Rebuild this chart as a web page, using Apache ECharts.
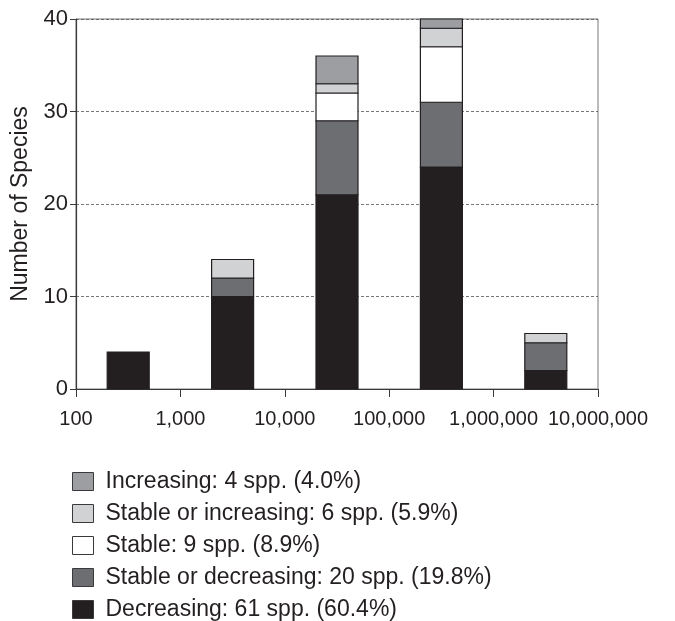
<!DOCTYPE html>
<html>
<head>
<meta charset="utf-8">
<script src="https://cdn.jsdelivr.net/npm/echarts@6/dist/echarts.min.js"></script>
<style>
  html, body { margin: 0; padding: 0; background: #fff; }
  #chart { width: 675px; height: 621px; }
</style>
</head>
<body>
<div id="chart"></div>
<script>
// Size classes (one decade each); each bar sits at the geometric middle of its class
const binLower = [100, 1000, 10000, 100000, 1000000];
const binUpper = [1000, 10000, 100000, 1000000, 10000000];

// Species counts per size class, by population trend (null = none in that class)
const decreasing          = [4, 10, 21, 24, 2];
const stableOrDecreasing  = [null, 2, 8, 7, 3];
const stable              = [null, null, 3, 6, null];
const stableOrIncreasing  = [null, 2, 1, 2, 1];
const increasing          = [null, null, 3, 1, null];

// Total number of species assessed (denominator of the percentages)
const totalSpecies = 101;

const trendLabels = ['Decreasing', 'Stable or decreasing', 'Stable', 'Stable or increasing', 'Increasing'];
const trendColors = ['#231f20', '#6d6e71', '#ffffff', '#d1d2d4', '#9d9ea2'];
const trendValues = [decreasing, stableOrDecreasing, stable, stableOrIncreasing, increasing];

const yTicks = [0, 10, 20, 30, 40];

const sum = arr => arr.reduce((a, b) => a + (b || 0), 0);
const names = trendValues.map((arr, i) => {
  const n = sum(arr);
  return trendLabels[i] + ': ' + n + ' spp. (' + (n / totalSpecies * 100).toFixed(1) + '%)';
});
const centers = binLower.map((lo, i) => Math.sqrt(lo * binUpper[i]));

// Stack segments: each item is [x, bottom, top]
const runningTop = binLower.map(() => 0);
const stackedData = trendValues.map(arr => {
  const items = [];
  arr.forEach((v, j) => {
    if (v == null) return;
    const bottom = runningTop[j];
    runningTop[j] += v;
    items.push([centers[j], bottom, runningTop[j]]);
  });
  return items;
});

const BAR_WIDTH = 42;
function renderSegment(params, api) {
  const x = api.value(0);
  const pBottom = api.coord([x, api.value(1)]);
  const pTop = api.coord([x, api.value(2)]);
  return {
    type: 'rect',
    shape: {
      x: pBottom[0] - BAR_WIDTH / 2,
      y: pTop[1],
      width: BAR_WIDTH,
      height: pBottom[1] - pTop[1]
    },
    style: api.style()
  };
}

const font = '"Liberation Sans", Arial, Helvetica, sans-serif';
const ink = '#231f20';

const chart = echarts.init(document.getElementById('chart'), null, { renderer: 'canvas' });
chart.setOption({
  animation: false,
  backgroundColor: '#ffffff',
  textStyle: { fontFamily: font },
  grid: {
    left: 76, right: 77, top: 19, bottom: 232,
    show: true, borderColor: '#77787b', borderWidth: 1
  },
  xAxis: {
    type: 'log',
    logBase: 10,
    min: binLower[0],
    max: binUpper[binUpper.length - 1],
    axisLine: { show: true, lineStyle: { color: '#3a3a3a', width: 1.2 } },
    axisTick: { show: true, inside: false, length: 8, lineStyle: { color: '#3a3a3a' } },
    splitLine: { show: false },
    axisLabel: {
      color: ink, fontSize: 20, fontFamily: font, margin: 20,
      formatter: v => Math.round(v).toLocaleString('en-US')
    }
  },
  yAxis: {
    type: 'value',
    min: yTicks[0],
    max: yTicks[yTicks.length - 1],
    interval: 10,
    name: 'Number of Species',
    nameLocation: 'middle',
    nameGap: 40,
    nameRotate: 90,
    nameTextStyle: { color: ink, fontSize: 23, fontFamily: font },
    axisLine: { show: true, lineStyle: { color: '#3a3a3a', width: 1.2 } },
    axisTick: { show: true, inside: false, length: 6, lineStyle: { color: '#3a3a3a' } },
    splitLine: { show: true, lineStyle: { color: '#555', type: [3, 2], width: 0.8 } },
    axisLabel: { color: ink, fontSize: 22, fontFamily: font, margin: 8 }
  },
  legend: {
    orient: 'vertical',
    left: 72,
    top: 470,
    height: 200,
    padding: 0,
    itemWidth: 21,
    itemHeight: 18,
    itemGap: 9,
    icon: 'rect',
    data: names.slice().reverse(),
    itemStyle: { borderColor: '#3a3a3a', borderWidth: 1 },
    textStyle: { color: ink, fontSize: 23, fontFamily: font, padding: [0, 0, 0, 7] },
    selectedMode: false
  },
  series: stackedData.map((items, i) => ({
    name: names[i],
    type: 'custom',
    renderItem: renderSegment,
    encode: { x: 0, y: [1, 2] },
    itemStyle: { color: trendColors[i], borderColor: ink, borderWidth: 1.2 },
    data: items
  }))
});
</script>
</body>
</html>
